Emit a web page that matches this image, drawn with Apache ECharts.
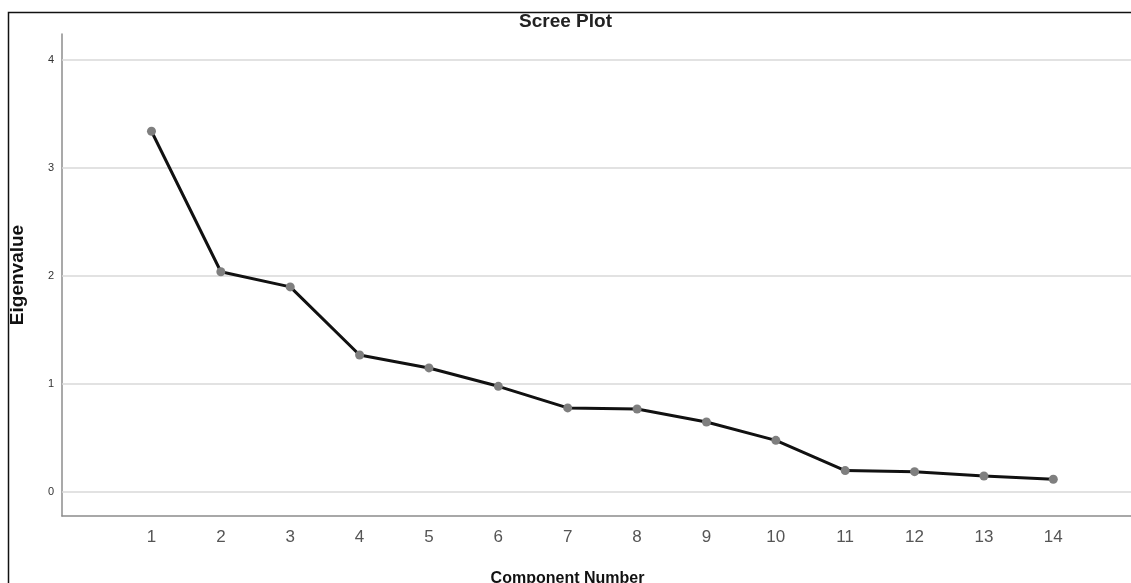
<!DOCTYPE html>
<html>
<head>
	<meta charset="UTF-8">
	<title>Scree Plot</title>
	<script src="https://cdn.jsdelivr.net/npm/echarts@6/dist/echarts.min.js"></script>
	<style>
		html, body { margin: 0; padding: 0; background: #fff; }
		#chart { width: 1131px; height: 583px; }
	</style>
</head>
<body>
	<div id="chart"></div>
<script type="text/javascript">
	// component numbers and their eigenvalues
	var components = [1, 2, 3, 4, 5, 6, 7, 8, 9, 10, 11, 12, 13, 14];
	var eigenvalues = [3.34, 2.04, 1.90, 1.27, 1.15, 0.98, 0.78, 0.77, 0.65, 0.48, 0.20, 0.19, 0.15, 0.12];
	var yTicks = [0, 1, 2, 3, 4];

	var points = components.map(function (c, i) { return [c, eigenvalues[i]]; });

	var myChart = echarts.init(document.getElementById("chart"));

	option = {
		animation: false,
		backgroundColor: '#fff',
		title: {
			text: 'Scree Plot',
			left: 'center',
			top: 12,
			padding: [0, 0, 0, 0],
			textStyle: {
				fontFamily: 'Liberation Sans',
				fontSize: 19,
				fontWeight: 'bold',
				color: '#222'
			}
		},
		graphic: [{
			type: 'rect',
			shape: { x: 8.5, y: 12.5, width: 1200, height: 700 },
			style: { fill: null, stroke: '#111', lineWidth: 1.5 },
			z: -1
		}],
		grid: {
			left: 62,
			right: 0,
			top: 34,
			bottom: 67,
			containLabel: false,
			outerBoundsMode: 'none'
		},
		xAxis: {
			type: 'value',
			min: -0.29,
			max: 15.12,
			name: 'Component Number',
			nameLocation: 'middle',
			nameGap: 55,
			nameTextStyle: {
				fontFamily: 'Liberation Sans',
				fontSize: 16,
				fontWeight: 'bold',
				color: '#111',
				padding: [0, 58, 0, 0]
			},
			axisLine: { onZero: false, lineStyle: { color: '#8c8c8c', width: 1.5 } },
			axisTick: { show: false },
			splitLine: { show: false },
			axisLabel: {
				customValues: components,
				margin: 13,
				fontFamily: 'Liberation Sans',
				fontSize: 17,
				color: '#555'
			}
		},
		yAxis: {
			type: 'value',
			min: -0.22,
			max: 4.24,
			name: 'Eigenvalue',
			nameLocation: 'middle',
			nameGap: 35,
			nameTextStyle: {
				fontFamily: 'Liberation Sans',
				fontSize: 19,
				fontWeight: 'bold',
				color: '#111'
			},
			axisLine: { show: true, onZero: false, lineStyle: { color: '#8c8c8c', width: 1.5 } },
			axisTick: { show: false },
			splitLine: { show: false },
			axisLabel: {
				customValues: yTicks,
				margin: 8,
				fontFamily: 'Liberation Sans',
				fontSize: 11,
				color: '#333'
			}
		},
		series: [
			{
				type: 'line',
				data: points,
				symbol: 'circle',
				symbolSize: 9,
				itemStyle: { color: '#7f7f7f' },
				lineStyle: { color: '#111', width: 3 },
				z: 3,
				markLine: {
					silent: true,
					symbol: 'none',
					label: { show: false },
					lineStyle: { color: '#d9d9d9', width: 1.5, type: 'solid' },
					data: yTicks.map(function (v) { return { yAxis: v }; }),
					z: 1
				}
			}
		]
	};

	myChart.setOption(option);
</script>
</body>
</html>
